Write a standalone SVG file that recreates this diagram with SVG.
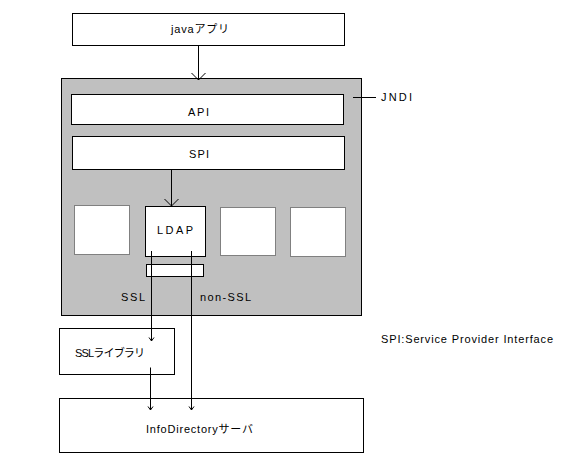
<svg xmlns="http://www.w3.org/2000/svg" width="563" height="466" viewBox="0 0 563 466">
<style>
  .box { fill: #ffffff; stroke: #000000; stroke-width: 1; }
  .gbox { fill: #ffffff; stroke: #808080; stroke-width: 1; }
  .frame { fill: #c0c0c0; stroke: #000000; stroke-width: 1; }
  .lbl { font-family: "Liberation Sans", "Noto Sans CJK JP", sans-serif; font-size: 11px; font-weight: normal; fill: #000000; }
  .ln { stroke: #000000; stroke-width: 1; fill: none; }
</style>
<defs>
  <marker id="big" markerUnits="userSpaceOnUse" markerWidth="16" markerHeight="16" refX="0" refY="0" orient="auto" overflow="visible">
    <path d="M-7,-7 L0,0 L-7,7" fill="none" stroke="#000" stroke-width="1"/>
  </marker>
  <marker id="small" markerUnits="userSpaceOnUse" markerWidth="8" markerHeight="8" refX="0" refY="0" orient="auto" overflow="visible">
    <path d="M-3.5,-2.5 L0,0 L-3.5,2.5" fill="none" stroke="#000" stroke-width="1"/>
  </marker>
</defs>

<g id="app">
  <rect class="box" x="72.5" y="13.5" width="272" height="32"/>
  <text class="lbl" x="171" y="33" textLength="58" lengthAdjust="spacing">javaアプリ</text>
</g>

<g id="jndi">
  <rect class="frame" x="61.5" y="78.5" width="300" height="237"/>
  <text class="lbl" x="381" y="101" textLength="31" lengthAdjust="spacing">JNDI</text>
</g>

<g id="api">
  <rect class="box" x="71.5" y="94.5" width="272" height="30"/>
  <text class="lbl" x="188" y="116" textLength="21" lengthAdjust="spacing">API</text>
</g>

<g id="spi">
  <rect class="box" x="72.5" y="136.5" width="272" height="33"/>
  <text class="lbl" x="189" y="158" textLength="20" lengthAdjust="spacing">SPI</text>
</g>

<g id="provider1">
  <rect class="gbox" x="74.5" y="205.5" width="55" height="49"/>
</g>

<g id="ldap">
  <rect class="box" x="145.5" y="206.5" width="60" height="50"/>
  <text class="lbl" x="157" y="234" textLength="36" lengthAdjust="spacing">LDAP</text>
</g>

<g id="provider3">
  <rect class="gbox" x="220.5" y="207.5" width="55" height="48"/>
</g>

<g id="provider4">
  <rect class="gbox" x="290.5" y="207.5" width="55" height="49"/>
</g>

<g id="socket">
  <rect class="box" x="146.5" y="264.5" width="57" height="12"/>
</g>

<g id="ssllib">
  <rect class="box" x="59.5" y="328.5" width="115" height="46"/>
  <text class="lbl" x="75" y="357" textLength="70" lengthAdjust="spacing">SSLライブラリ</text>
</g>

<g id="server">
  <rect class="box" x="59.5" y="398.5" width="304" height="54"/>
  <text class="lbl" x="146" y="433" textLength="107" lengthAdjust="spacing">InfoDirectoryサーバ</text>
</g>

<g id="labels">
  <text class="lbl" x="121" y="301" textLength="24" lengthAdjust="spacing">SSL</text>
  <text class="lbl" x="200" y="301" textLength="51" lengthAdjust="spacing">non-SSL</text>
  <text class="lbl" x="381" y="343" textLength="172" lengthAdjust="spacing">SPI:Service Provider Interface</text>
</g>

<g id="connectors">
  <line class="ln" x1="198.5" y1="45.5" x2="198.5" y2="80" marker-end="url(#big)"/>
  <line class="ln" x1="353" y1="97.5" x2="376" y2="97.5"/>
  <line class="ln" x1="171.5" y1="169.5" x2="171.5" y2="206" marker-end="url(#big)"/>
  <line class="ln" x1="151.5" y1="251" x2="151.5" y2="341" marker-end="url(#small)"/>
  <line class="ln" x1="191.5" y1="251" x2="191.5" y2="410" marker-end="url(#small)"/>
  <line class="ln" x1="150.5" y1="367.5" x2="150.5" y2="410" marker-end="url(#small)"/>
</g>
</svg>
